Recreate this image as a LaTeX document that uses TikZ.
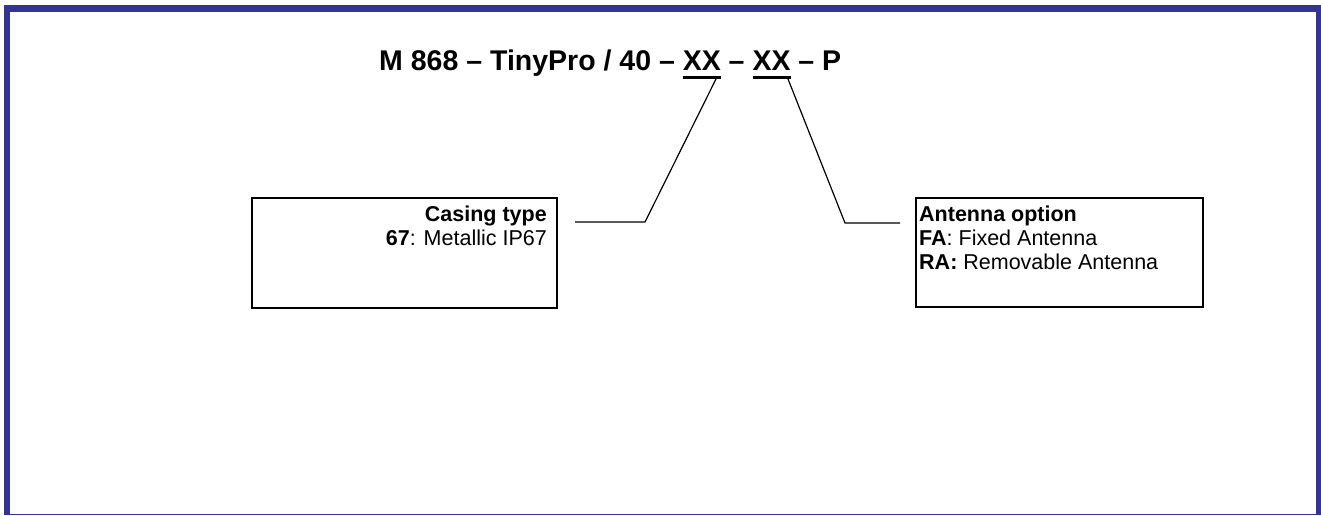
\documentclass[tikz,border=0pt]{standalone}
\usepackage{fontspec}
\setmainfont{Liberation Sans}
\definecolor{frameblue}{HTML}{333399}
\newcommand\thickul[1]{\setbox0\hbox{#1}\rlap{\rule[-8.3pt]{\wd0}{2.6pt}}\box0\relax}
\tikzset{
  infobox/.style={draw=black, line width=1.4pt, inner sep=0pt},
  infotext/.style={inner sep=0pt, font=\fontsize{21.5}{24}\selectfont},
  connector/.style={draw=black, line width=1.2pt},
}
\begin{document}
\begin{tikzpicture}[x=1pt,y=-1pt]
\useasboundingbox (0,0) rectangle (1321,515);
% frame
\fill[frameblue] (4,5) rectangle (1316,11.5);
\fill[frameblue] (4,5) rectangle (10,515);
\fill[frameblue] (1316,5) rectangle (1321,515);
\fill[frameblue] (10,513.5) rectangle (1316,515);
% title
\node[anchor=base west, inner sep=0pt, font=\fontsize{28.5}{28.5}\selectfont\bfseries] (title) at (379,70.7)
  {M 868 -- TinyPro / 40 -- \thickul{XX} -- \thickul{XX} -- P};
\coordinate (xx1) at (716,79);
\coordinate (xx2) at (788,79);
% boxes
\node[infobox, minimum width=305pt, minimum height=110pt] (casing) at (404.5,253) {};
\node[infobox, minimum width=287pt, minimum height=109pt] (antenna) at (1059.5,252.5) {};
\node[infotext, anchor=north east, align=right] (casingtxt) at (547,205.5)
  {\textbf{Casing type}\\\textbf{67}: Metallic IP67};
\node[infotext, anchor=north west, align=left] (antennatxt) at (919,205.5)
  {\textbf{Antenna option}\\\textbf{FA}: Fixed Antenna\\\textbf{RA:} Removable Antenna};
% connectors
\coordinate (k1) at (645,222);
\coordinate (e1) at (575,222);
\coordinate (k2) at (845,223);
\coordinate (e2) at (900,223);
\draw[connector] (xx1) -- (k1) -- (e1);
\draw[connector] (xx2) -- (k2) -- (e2);
\end{tikzpicture}
\end{document}
